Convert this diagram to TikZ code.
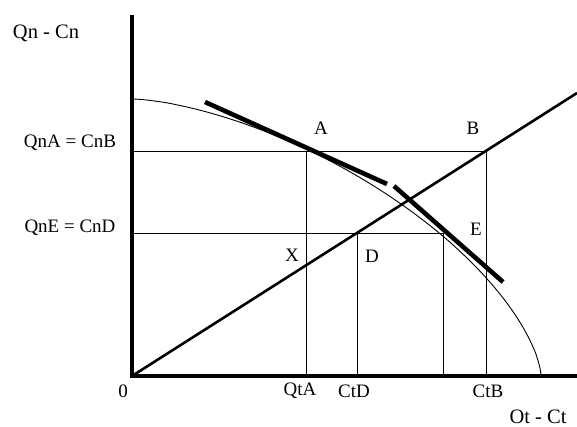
\documentclass[tikz,border=0pt]{standalone}
\usepackage{fontspec}
\setmainfont{Liberation Serif}
\begin{document}
\begin{tikzpicture}[x=1pt,y=-1pt,
  axisline/.style={line width=4pt},
  thinline/.style={line width=0.9pt},
  rayline/.style={line width=2.6pt},
  tangline/.style={line width=4.6pt},
  lbl/.style={inner sep=0pt,font=\fontsize{19}{21}\selectfont},
  biglbl/.style={inner sep=0pt,font=\fontsize{20.5}{23}\selectfont}]
\useasboundingbox (0,0) rectangle (577,427);
% key points
\coordinate (O) at (132,376);
\coordinate (Ytop) at (132,15);
\coordinate (Xend) at (577,376);
\coordinate (A) at (306,151);
\coordinate (B) at (486,151);
\coordinate (E) at (443,233);
\coordinate (Ey) at (132,233);
\coordinate (Ay) at (132,151);
\coordinate (Rend) at (577,93);
\coordinate (D) at (intersection of O--B and Ey--E);
\coordinate (T1s) at (205,102);
\coordinate (T1e) at (387,184);
\coordinate (T2s) at (394,186);
\coordinate (T2e) at (503,282);
% curve
\draw[thinline] plot[domain=0.01:89.99, samples=120, variable=\t]
  ({132+409*cos(\t)^1.29}, {376-277*sin(\t)^1.29});
% guide lines
\draw[thinline] (Ay) -- (B);
\draw[thinline] (Ey) -- (E);
\draw[thinline] (A) -- (A |- O);
\draw[thinline] (D) -- (D |- O);
\draw[thinline] (E) -- (E |- O);
\draw[thinline] (B) -- (B |- O);
% ray
\draw[rayline] (O) -- (Rend);
% tangents
\draw[tangline] (T1s) -- (T1e);
\draw[tangline] (T2s) -- (T2e);
% axes
\draw[axisline] (Ytop) -- ([yshift=2pt]O);
\draw[axisline] ([xshift=-2pt]O) -- (Xend);
% labels
\node[biglbl] (lQn) at (46,33) {Qn - Cn};
\node[biglbl] (lOt) at (538,417) {Ot - Ct};
\node[lbl] (lQnA) at (70,143) {QnA = CnB};
\node[lbl] (lQnE) at (70,228) {QnE = CnD};
\node[lbl] (lA) at (321,128) {A};
\node[lbl] (lB) at (473,128) {B};
\node[lbl] (lE) at (476,229) {E};
\node[lbl] (lX) at (292,255) {X};
\node[lbl] (lD) at (372,256) {D};
\node[lbl] (l0) at (123,391) {0};
\node[lbl] (lQtA) at (300,391) {QtA};
\node[lbl] (lCtD) at (354,391) {CtD};
\node[lbl] (lCtB) at (488,391) {CtB};
\end{tikzpicture}
\end{document}
